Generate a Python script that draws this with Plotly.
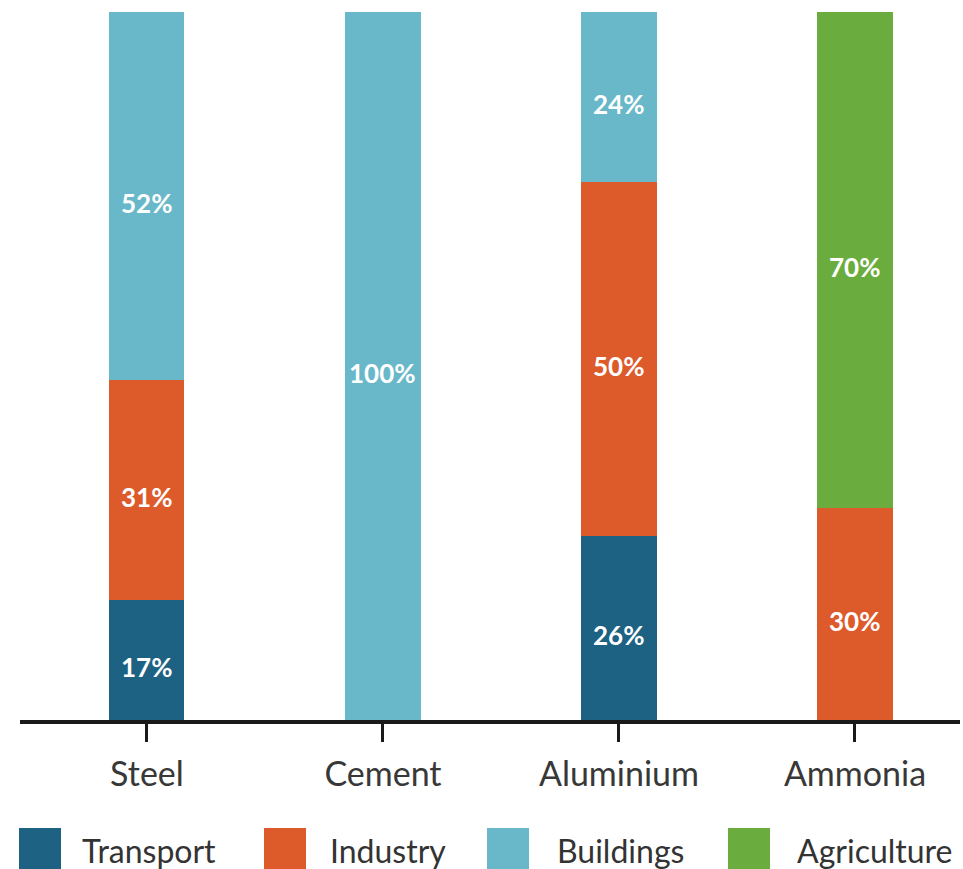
import plotly.graph_objects as go

categories = ["Steel", "Cement", "Aluminium", "Ammonia"]
series_names = ["Transport", "Industry", "Buildings", "Agriculture"]
transport = [17, 0, 26, 0]
industry = [31, 0, 50, 30]
buildings = [52, 100, 24, 0]
agriculture = [0, 0, 0, 70]
series_values = [transport, industry, buildings, agriculture]
colors = ["#1d6282", "#dd5a2b", "#68b8c9", "#6aad3e"]

W, H = 963, 869
ML, MR, MT, MB = 20, 3, 12, 149
pw, ph = W - ML - MR, H - MT - MB

fig = go.Figure()
base = [0] * len(categories)
for name, vals, col in zip(series_names, series_values, colors):
    fig.add_trace(go.Bar(
        x=categories, y=[v if v else None for v in vals], name=name,
        marker=dict(color=col, line=dict(width=0)),
        width=0.318, showlegend=False,
    ))
    for i, v in enumerate(vals):
        if v:
            fig.add_annotation(x=categories[i], y=base[i] + v / 2, text=f"{v}%",
                               showarrow=False, yshift=-7,
                               font=dict(family="Lato", size=26, color="white", weight="bold"))
        base[i] += v

# legend drawn as shapes + text
sq_x = [19, 264, 487, 728]
txt_x = [80, 328, 555, 795]
def px_to_paper_x(px):
    return (px - ML) / pw
def py_to_paper_y(py):
    return (H - MB - py) / ph
for name, col, sx, tx in zip(series_names, colors, sq_x, txt_x):
    fig.add_shape(type="rect", xref="paper", yref="paper",
                  x0=px_to_paper_x(sx), x1=px_to_paper_x(sx + 42),
                  y0=py_to_paper_y(828), y1=py_to_paper_y(870),
                  fillcolor=col, line=dict(width=0))
    fig.add_annotation(xref="paper", yref="paper", x=px_to_paper_x(tx),
                       y=py_to_paper_y(851), text=name, showarrow=False,
                       xanchor="left", yanchor="middle",
                       font=dict(family="Lato", size=32, color="#333333"))

fig.update_layout(
    barmode="stack",
    width=W, height=H,
    margin=dict(l=ML, r=MR, t=MT, b=MB),
    paper_bgcolor="white", plot_bgcolor="white",
    bargap=0,
)
fig.update_xaxes(
    range=[-0.538, 3.445], showline=True, linecolor="#1a1a1a", linewidth=4,
    ticks="outside", ticklen=18, tickwidth=3, tickcolor="#1a1a1a",
    tickfont=dict(family="Lato", size=34, color="#383838"),
    ticklabelstandoff=3,
    showgrid=False, zeroline=False,
)
fig.update_yaxes(range=[0, 100], visible=False, showgrid=False)

fig.write_html("out.html")
